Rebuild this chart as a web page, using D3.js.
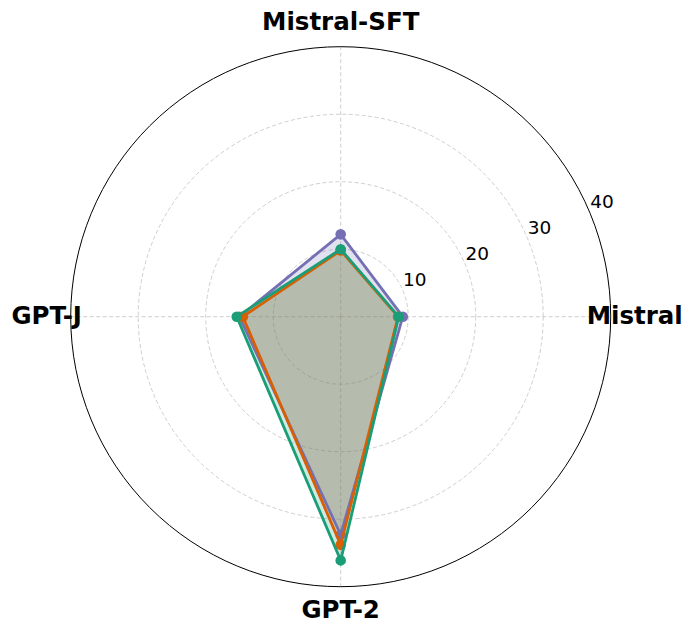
<!DOCTYPE html>
<html>
<head>
<meta charset="utf-8">
<script src="https://cdn.jsdelivr.net/npm/d3@7"></script>
<style>
  body { margin: 0; background: #fff; }
  svg { display: block; }
</style>
</head>
<body>
<div id="chart"></div>
<script>
// axes, counter-clockwise from the right as in the picture
var axes = ["Mistral", "Mistral-SFT", "GPT-J", "GPT-2"];
var ticks = [10, 20, 30, 40];
var seriesColors = ["#7570b3", "#d95f02", "#1b9e77"];

var purpleVals = [9.2, 12.2, 15.0, 32.3];
var orangeVals = [8.5, 9.8, 14.5, 33.8];
var greenVals = [8.6, 10.0, 15.4, 36.1];
var series = [purpleVals, orangeVals, greenVals];

var width = 693, height = 632;
var cx = 340.7, cy = 316.7, radius = 270;

var svg = d3.select("#chart")
    .append("svg")
        .attr("width", width)
        .attr("height", height)
    .append("g")
        .attr("transform", "translate(" + cx + "," + cy + ")");

var r = d3.scaleLinear().domain([0, 40]).range([0, radius]);
// angle in radians, counter-clockwise from the right (math style)
var angle = d3.scalePoint().domain(axes.concat(["_end"])).range([0, 2 * Math.PI]);

function px(a, v) { return r(v) * Math.cos(angle(a)); }
function py(a, v) { return -r(v) * Math.sin(angle(a)); }

// grid circles
svg.append("g").selectAll("circle")
    .data(ticks.slice(0, -1))
    .enter()
    .append("circle")
    .attr("r", function(d) { return r(d); })
    .style("fill", "none")
    .style("stroke", "#c8c8c8")
    .style("stroke-width", 0.9)
    .style("stroke-dasharray", "4,2.5");

// spokes
svg.append("g").selectAll("line")
    .data(axes)
    .enter()
    .append("line")
    .attr("x1", 0).attr("y1", 0)
    .attr("x2", function(d) { return px(d, 40); })
    .attr("y2", function(d) { return py(d, 40); })
    .style("stroke", "#c8c8c8")
    .style("stroke-width", 0.9)
    .style("stroke-dasharray", "4,2.5");

// outer spine
svg.append("circle")
    .attr("r", r(40))
    .style("fill", "none")
    .style("stroke", "#000")
    .style("stroke-width", 1);

// series
var line = d3.lineRadial()
    .angle(function(d, i) { return Math.PI / 2 - angle(axes[i]); })
    .radius(function(d) { return r(d); })
    .curve(d3.curveLinearClosed);

var fills = svg.append("g");
var lines = svg.append("g");
series.forEach(function(vals, k) {
    fills.append("path")
        .attr("d", line(vals))
        .style("fill", seriesColors[k])
        .style("fill-opacity", 0.21)
        .style("stroke", "none");
    var g = lines.append("g");
    g.append("path")
        .attr("d", line(vals))
        .style("fill", "none")
        .style("stroke", seriesColors[k])
        .style("stroke-width", 2.8)
        .style("stroke-linejoin", "round");
    g.selectAll("circle")
        .data(vals)
        .enter()
        .append("circle")
        .attr("r", 5.3)
        .attr("cx", function(d, i) { return px(axes[i], d); })
        .attr("cy", function(d, i) { return py(axes[i], d); })
        .style("fill", seriesColors[k]);
});

// radial tick labels at 22.5 degrees
var labAng = 22.5 * Math.PI / 180;
svg.append("g").selectAll("text")
    .data(ticks)
    .enter()
    .append("text")
    .text(function(d) { return d; })
    .attr("x", function(d) { return r(d) * Math.cos(labAng); })
    .attr("y", function(d) { return -r(d) * Math.sin(labAng) - 5; })
    .attr("font-family", "DejaVu Sans, sans-serif")
    .attr("font-size", "18.5px")
    .style("text-anchor", "start");

// axis labels, just outside the spine
var labelR = 294;
svg.append("g").selectAll("text")
    .data(axes)
    .enter()
    .append("text")
    .text(function(d) { return d; })
    .attr("x", function(d) { return labelR * Math.cos(angle(d)); })
    .attr("y", function(d) { return -labelR * Math.sin(angle(d)); })
    .attr("dy", "0.28em")
    .attr("font-family", "DejaVu Sans, sans-serif")
    .attr("font-size", "24.5px")
    .attr("font-weight", "bold")
    .style("text-anchor", "middle");
</script>
</body>
</html>
